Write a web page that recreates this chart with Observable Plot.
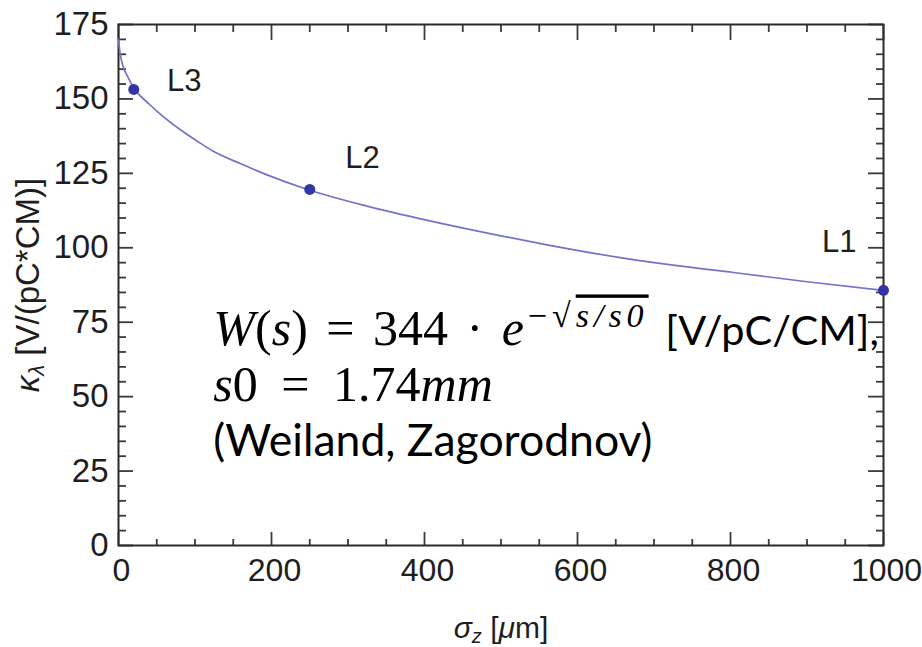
<!DOCTYPE html>
<html>
<head>
<meta charset="utf-8">
<script src="https://cdn.jsdelivr.net/npm/d3@7"></script>
<script src="https://cdn.jsdelivr.net/npm/@observablehq/plot@0.6"></script>
<style>
html, body { margin: 0; padding: 0; background: #fff; }
#chart svg { display: block; }
</style>
</head>
<body>
<div id="chart"></div>
<script>
// ---- data ----
const sigma = [0, 2, 6, 12, 22, 40, 55, 80, 103, 124, 160, 195, 247, 325, 404, 500, 560, 656, 730, 804, 900, 1000];
const kappa = [170, 165.5, 161, 157.5, 153, 148.3, 144.8, 139.8, 135.8, 132.4, 128.2, 124.4, 119.6, 114, 109.2, 104, 101, 96.7, 94, 91.7, 88.6, 85.7];

const pointNames = ["L3", "L2", "L1"];
const pointSigma = [20, 250, 1000];
const pointKappa = [153.2, 119.6, 85.7];
const labelSigma = [86, 319, 942];
const labelKappa = [156, 130, 102];

const xMajor = [0, 200, 400, 600, 800, 1000];
const xMinor = [50, 100, 150, 250, 300, 350, 450, 500, 550, 650, 700, 750, 850, 900, 950];
const yMajor = [0, 25, 50, 75, 100, 125, 150, 175];
const yMinor = [5, 10, 15, 20, 30, 35, 40, 45, 55, 60, 65, 70, 80, 85, 90, 95, 105, 110, 115, 120, 130, 135, 140, 145, 155, 160, 165, 170];

const noteKeys = ["NOTE1", "NOTE2", "NOTE3"];
const noteSigma = [124, 124, 124];
const noteKappa = [67.2, 48.7, 30.2];

const xTitle = "σz [μm]";
const yTitle = "κλ [V/(pC*CM)]";

// ---- tables ----
const curve = sigma.map((s, i) => ({s, k: kappa[i]}));
const points = pointNames.map((n, i) => ({n, s: pointSigma[i], k: pointKappa[i], ls: labelSigma[i], lk: labelKappa[i]}));
const notes = noteKeys.map((t, i) => ({t, s: noteSigma[i], k: noteKappa[i]}));

const W = 922, H = 647, mL = 118, mR = 39, mT = 24, mB = 102;
const iw = W - mL - mR, ih = H - mT - mB;
const tickColor = "#3a3a3a";

const chart = Plot.plot({
  width: W, height: H,
  marginLeft: mL, marginRight: mR, marginTop: mT, marginBottom: mB,
  style: {fontFamily: "'Liberation Sans', Arial, sans-serif", background: "#fff", color: "#1e1e1e"},
  x: {domain: [0, 1000], label: null},
  y: {domain: [0, 175], label: null},
  marks: [
    Plot.tickX(xMinor, {x: d => d, insetTop: ih - 6, stroke: tickColor, strokeWidth: 1.8}),
    Plot.tickX(xMajor, {x: d => d, insetTop: ih - 13, stroke: tickColor, strokeWidth: 1.8}),
    Plot.tickX(xMinor, {x: d => d, insetBottom: ih - 8, stroke: tickColor, strokeWidth: 1.8}),
    Plot.tickX(xMajor, {x: d => d, insetBottom: ih - 16, stroke: tickColor, strokeWidth: 1.8}),
    Plot.tickY(yMinor, {y: d => d, insetRight: iw - 8, stroke: tickColor, strokeWidth: 1.8}),
    Plot.tickY(yMajor, {y: d => d, insetRight: iw - 15, stroke: tickColor, strokeWidth: 1.8}),
    Plot.tickY(yMinor, {y: d => d, insetLeft: iw - 7, stroke: tickColor, strokeWidth: 1.8}),
    Plot.tickY(yMajor, {y: d => d, insetLeft: iw - 15, stroke: tickColor, strokeWidth: 1.8}),
    Plot.frame({stroke: "#2a2a2a", strokeWidth: 2}),
    Plot.axisX({ticks: xMajor, tickSize: 0, tickPadding: 13, dx: 3, tickFormat: d => String(d), fontSize: 32, label: null}),
    Plot.axisY({ticks: yMajor, tickSize: 0, tickPadding: 10, tickFormat: d => String(d), fontSize: 33, label: null}),
    Plot.line(curve, {x: "s", y: "k", stroke: "#7373c9", strokeWidth: 1.7, curve: "monotone-x"}),
    Plot.dot(points, {x: "s", y: "k", r: 5.5, fill: "#3434a6", stroke: "none"}),
    Plot.text(points, {x: "ls", y: "lk", text: "n", fontSize: 31, textAnchor: "middle", lineAnchor: "middle"}),
    Plot.text(notes, {x: "s", y: "k", text: "t", textAnchor: "start", lineAnchor: "bottom", fill: "#000"}),
    Plot.text([xTitle], {frameAnchor: "bottom", dy: 83, text: d => d, fontSize: 30, textAnchor: "middle", lineAnchor: "middle"}),
    Plot.text([yTitle], {frameAnchor: "left", dx: -90, rotate: -90, text: d => d, fontSize: 33, textAnchor: "middle", lineAnchor: "middle"})
  ]
});

document.getElementById("chart").appendChild(chart);

// ---- rich text post-processing ----
const serif = "font-family:'Liberation Serif','Times New Roman',serif;";
const lato = "font-family:Lato,'Open Sans',sans-serif;";
function rich(match, parts) {
  d3.select(chart).selectAll("text").each(function () {
    if (this.textContent !== match) return;
    const t = d3.select(this);
    t.text(null).attr("xml:space", "preserve").style("white-space", "pre");
    for (const p of parts) {
      const ts = t.append("tspan").text(p.t);
      if (p.s) ts.attr("style", p.s);
      if (p.dy != null) ts.attr("dy", p.dy);
      if (p.dx != null) ts.attr("dx", p.dx);
    }
  });
}
const m = serif + "font-size:50px;";
const mi = m + "font-style:italic;";
const sup = serif + "font-size:34px;";
rich("NOTE1", [
  {t: "W", s: mi}, {t: "(", s: m}, {t: "s", s: mi}, {t: ")", s: m},
  {t: " = 344 · ", s: m + "word-spacing:6px;"}, {t: "e", s: mi},
  {t: "−√", s: sup + "letter-spacing:5px;", dy: -18, dx: 4},
  {t: "s/s0", s: sup + "font-style:italic;letter-spacing:5px;text-decoration:overline;"},
  {t: " [V/pC/CM],", s: lato + "font-size:41.5px;", dy: 18, dx: 6}
]);
rich("NOTE2", [
  {t: "s", s: mi}, {t: "0 = 1.74", s: m + "word-spacing:11px;"}, {t: "mm", s: mi}
]);
rich("NOTE3", [
  {t: "(Weiland, Zagorodnov)", s: lato + "font-size:44.5px;"}
]);
rich(xTitle, [
  {t: "σ", s: "font-style:italic;"}, {t: "z", s: "font-style:italic;font-size:20px;", dy: 5},
  {t: " [", dy: -5}, {t: "μ", s: "font-style:italic;"}, {t: "m]"}
]);
rich(yTitle, [
  {t: "κ", s: "font-style:italic;"}, {t: "λ", s: "font-style:italic;font-size:22px;", dy: 5},
  {t: " [V/(pC*CM)]", dy: -5}
]);
</script>
</body>
</html>
